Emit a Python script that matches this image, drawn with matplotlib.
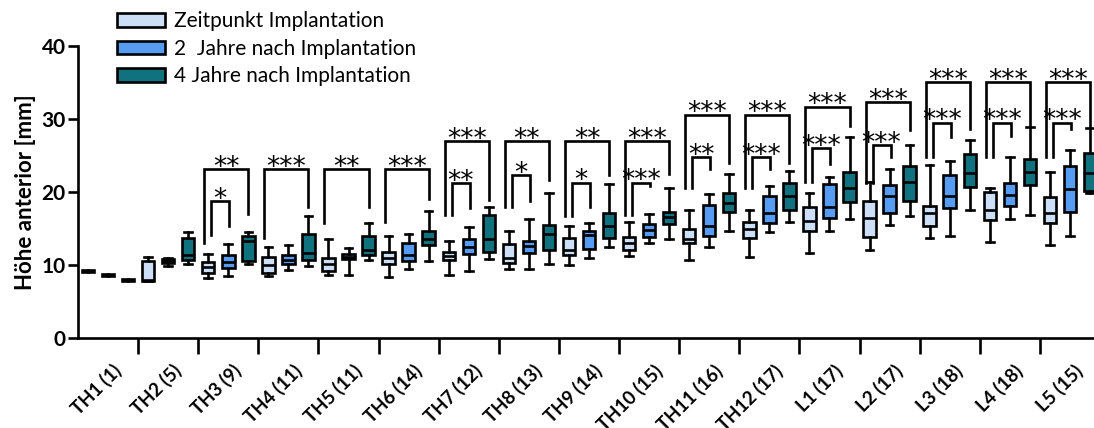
"""Box plots of anterior vertebral height per level at three time points."""

import matplotlib

matplotlib.use("Agg")
import matplotlib.pyplot as plt
from matplotlib.patches import Patch

plt.rcParams["font.family"] = ["Lato", "DejaVu Sans"]

# categories (level and n)
levels = ["TH1 (1)", "TH2 (5)", "TH3 (9)", "TH4 (11)", "TH5 (11)", "TH6 (14)",
          "TH7 (12)", "TH8 (13)", "TH9 (14)", "TH10 (15)", "TH11 (16)",
          "TH12 (17)", "L1 (17)", "L2 (17)", "L3 (18)", "L4 (18)", "L5 (15)"]
series_names = ["Zeitpunkt Implantation", "2  Jahre nach Implantation",
                "4 Jahre nach Implantation"]

# five-number summaries (whisker low, q1, median, q3, whisker high) in mm
implantation = [
    (9.2, 9.05, 9.2, 9.35, 9.2), (7.8, 7.8, 7.9, 10.6, 11.1),
    (8.2, 8.9, 9.7, 10.4, 11.5), (8.5, 8.9, 10.0, 11.1, 12.4),
    (8.6, 9.2, 10.2, 11.0, 13.5), (8.4, 10.2, 11.0, 11.8, 14.0),
    (8.6, 10.7, 11.2, 11.8, 13.3), (9.4, 10.3, 10.9, 12.9, 14.6),
    (10.0, 11.4, 12.0, 13.65, 15.3), (11.3, 12.0, 13.0, 13.9, 15.9),
    (10.7, 13.0, 13.6, 14.9, 17.5), (11.05, 13.65, 14.9, 15.9, 17.5),
    (11.7, 14.7, 16.0, 18.0, 19.9), (12.05, 13.8, 16.4, 18.8, 21.4),
    (13.65, 15.3, 17.1, 18.1, 23.7), (13.2, 16.2, 17.5, 19.95, 20.5),
    (12.7, 15.7, 17.1, 19.3, 22.8),
]
two_years = [
    (8.6, 8.45, 8.6, 8.75, 8.6), (9.9, 10.3, 10.5, 10.8, 11.0),
    (8.5, 9.6, 10.4, 11.4, 12.9), (9.3, 10.1, 10.7, 11.4, 12.7),
    (8.6, 10.8, 11.1, 11.5, 12.3), (9.5, 10.5, 11.4, 13.0, 14.2),
    (9.2, 11.5, 12.5, 13.5, 15.2), (9.5, 11.7, 12.6, 13.3, 16.3),
    (10.9, 12.15, 14.1, 14.7, 15.8), (13.05, 13.9, 14.8, 15.6, 17.0),
    (12.5, 14.0, 15.3, 18.2, 19.7), (14.5, 15.8, 17.1, 19.4, 20.8),
    (14.7, 16.5, 18.0, 21.1, 22.0), (15.5, 17.1, 19.4, 21.0, 23.1),
    (14.0, 17.8, 19.4, 22.3, 24.2), (16.3, 18.1, 19.6, 21.2, 24.8),
    (14.0, 17.2, 20.4, 23.5, 25.7),
]
four_years = [
    (7.9, 7.75, 7.9, 8.05, 7.9), (10.2, 10.7, 11.4, 13.7, 14.5),
    (10.1, 10.6, 13.3, 14.0, 14.5), (9.8, 10.7, 11.6, 14.2, 16.7),
    (10.7, 11.4, 12.1, 14.0, 15.7), (10.5, 12.7, 13.5, 14.7, 17.4),
    (10.8, 11.8, 13.5, 16.8, 17.9), (10.1, 12.05, 14.2, 15.5, 19.8),
    (12.4, 13.65, 15.4, 17.1, 21.1), (13.5, 15.6, 16.6, 17.3, 20.5),
    (14.65, 17.2, 18.55, 19.9, 22.4), (15.9, 17.6, 19.45, 21.3, 22.9),
    (16.3, 18.6, 20.5, 22.8, 27.5), (16.7, 18.8, 21.4, 23.5, 26.4),
    (17.6, 20.7, 22.65, 25.2, 27.1), (16.9, 21.0, 22.7, 24.5, 28.9),
    (19.8, 20.2, 22.55, 25.3, 28.7),
]

# significance brackets, TH3 .. L5 (index into levels)
sig_levels = list(range(2, 17))
outer_top = [23.1, 23.1, 23.1, 23.1, 27.0, 27.0, 27.0, 27.0, 30.6, 30.6,
             31.7, 32.3, 35.1, 35.1, 35.1]
outer_left = [13.0, 13.65, 15.8, 15.9, 16.8, 17.9, 16.7, 16.8, 20.5, 20.5,
              21.4, 21.3, 24.8, 24.8, 24.8]
outer_right = [17.0, 18.0, 18.0, 19.0, 18.9, 21.6, 22.3, 22.5, 24.0, 24.0,
               29.0, 28.5, 28.6, 28.9, 28.8]
outer_stars = ["**", "***", "**", "***", "***", "**", "**", "***", "***",
               "***", "***", "***", "***", "***", "***"]
inner_top = [18.7, None, None, None, 21.2, 22.3, 21.3, 21.3, 24.8, 24.8,
             26.0, 26.4, 29.5, 29.5, 29.5]
inner_left = [14.1, None, None, None, 16.8, 18.0, 16.7, 16.8, 20.5, 20.5,
              21.4, 21.3, 24.8, 24.8, 24.8]
inner_right = [15.3, None, None, None, 17.75, 18.8, 18.0, 20.8, 23.2, 23.2,
               23.9, 24.75, 27.5, 27.7, 28.6]
inner_stars = ["*", None, None, None, "**", "*", "*", "***", "**", "***",
               "***", "***", "***", "***", "***"]

colors = ["#cddff6", "#579cf3", "#10727f"]
LW = 1.9


def to_stats(rows):
    return [dict(whislo=a, q1=b, med=c, q3=d, whishi=e, fliers=[])
            for a, b, c, d, e in rows]


def bracket(ax, x0, x1, top, y0, y1, label):
    ax.plot([x0, x0, x1, x1], [y0, top, top, y1], color="black", lw=LW,
            solid_joinstyle="miter", zorder=4)
    ax.text((x0 + x1) / 2, top - 0.8, label, ha="center", va="baseline",
            fontsize=19, family="DejaVu Sans", zorder=5)


fig = plt.figure(figsize=(10.94, 4.28), dpi=100)
ax = fig.add_axes([78 / 1094, 90 / 428, 1022 / 1094, 292 / 428])

for j, (rows, color) in enumerate(zip([implantation, two_years, four_years], colors)):
    pos = [3 * g + j for g in range(len(levels))]
    ax.bxp(to_stats(rows), positions=pos, widths=0.62, capwidths=0.38,
           patch_artist=True, showfliers=False, manage_ticks=False,
           boxprops=dict(facecolor=color, edgecolor="black", linewidth=LW),
           medianprops=dict(color="black", linewidth=LW),
           whiskerprops=dict(color="black", linewidth=LW),
           capprops=dict(color="black", linewidth=LW))

for k, g in enumerate(sig_levels):
    base = 3 * g
    bracket(ax, base - 0.2, base + 2.0, outer_top[k], outer_left[k],
            outer_right[k], outer_stars[k])
    if inner_top[k] is not None:
        bracket(ax, base + 0.15, base + 1.05, inner_top[k], inner_left[k],
                inner_right[k], inner_stars[k])

ax.set_xlim(-0.5, 3 * len(levels) - 0.5)
ax.set_ylim(0, 40)
ax.set_yticks([0, 10, 20, 30, 40])
ax.set_xticks([3 * g + 2.5 for g in range(len(levels) - 1)])
ax.set_xticklabels([])
ax.set_xticks([3 * g + 1.2 for g in range(len(levels))], minor=True)
ax.set_xticklabels(levels, minor=True, rotation=45, ha="right",
                   rotation_mode="anchor", fontsize=13.5, fontweight="bold")
ax.tick_params(axis="x", which="major", length=11.5, width=LW)
ax.tick_params(axis="x", which="minor", length=0, pad=17)
ax.tick_params(axis="y", length=7, width=LW, labelsize=15, pad=2)
for lab in ax.get_yticklabels():
    lab.set_fontweight("bold")

for side in ["top", "right"]:
    ax.spines[side].set_visible(False)
for side in ["left", "bottom"]:
    ax.spines[side].set_linewidth(LW)

ax.set_ylabel("Höhe anterior [mm]", fontsize=16, fontweight="bold", labelpad=4)

handles = [Patch(facecolor=c, edgecolor="black", linewidth=LW) for c in colors]
fig.legend(handles, series_names, loc="upper left",
           bbox_to_anchor=(106 / 1094, 1.0), frameon=False, fontsize=15,
           handlelength=2.3, handleheight=0.62, handletextpad=0.4,
           labelspacing=0.36, borderaxespad=0.15)

fig.savefig("out.png", dpi=100)
